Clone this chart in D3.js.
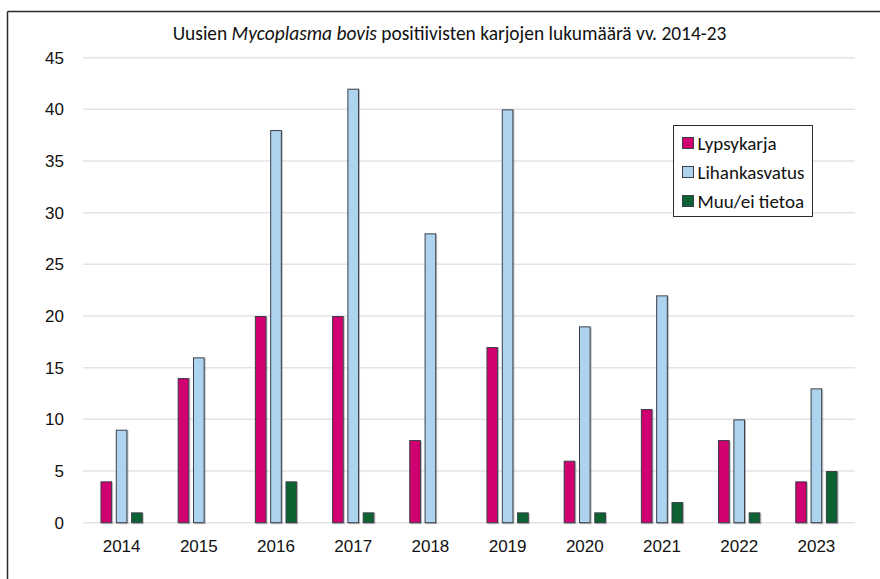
<!DOCTYPE html>
<html>
<head>
<meta charset="utf-8">
<script src="https://cdn.jsdelivr.net/npm/d3@7"></script>
<style>
  html, body { margin: 0; padding: 0; background: #fff; overflow: hidden; }
  svg { display: block; font-family: Carlito, Calibri, Lato, "Open Sans", sans-serif; }
</style>
</head>
<body>
<script>
const years = ["2014","2015","2016","2017","2018","2019","2020","2021","2022","2023"];
const seriesNames = ["Lypsykarja", "Lihankasvatus", "Muu/ei tietoa"];
const lypsykarja    = [4, 14, 20, 20, 8, 17, 6, 11, 8, 4];
const lihankasvatus = [9, 16, 38, 42, 28, 40, 19, 22, 10, 13];
const muu           = [1, 0, 4, 1, 0, 1, 1, 2, 1, 5];
const yTicks = [0, 5, 10, 15, 20, 25, 30, 35, 40, 45];
const colors = ["#d1006f", "#aed3ee", "#0c6233"];

const W = 880, H = 579;
const svg = d3.select("body").append("svg").attr("width", W).attr("height", H);

// outer frame (top and left edges visible)
svg.append("line").attr("x1", 7.5).attr("x2", W).attr("y1", 11.5).attr("y2", 11.5)
  .attr("stroke", "#2b2b2b").attr("stroke-width", 1.5);
svg.append("line").attr("x1", 7.5).attr("x2", 7.5).attr("y1", 11.5).attr("y2", H)
  .attr("stroke", "#2b2b2b").attr("stroke-width", 1.5);

const plot = {left: 83, right: 855, top: 57.7, bottom: 522.7};
const x = d3.scaleBand().domain(years).range([plot.left, plot.right]).paddingInner(0).paddingOuter(0);
const y = d3.scaleLinear().domain([0, 45]).range([plot.bottom, plot.top]);
const xs = d3.scaleBand().domain(seriesNames).range([0, x.bandwidth()]).paddingInner(0.24).paddingOuter(1.14);

// gridlines
svg.append("g").selectAll("line").data(yTicks).join("line")
  .attr("x1", plot.left).attr("x2", plot.right)
  .attr("y1", d => y(d)).attr("y2", d => y(d))
  .attr("stroke", "#e3e3e6").attr("stroke-width", 1.5);

// y axis labels
const yAxis = d3.axisLeft(y).tickValues(yTicks).tickSize(0).tickPadding(0);
const gy = svg.append("g").attr("transform", `translate(64,0)`).call(yAxis);
gy.select(".domain").remove();
gy.selectAll("text").attr("font-size", 17).attr("fill", "#111").attr("font-family", null);

// x axis labels
const xAxis = d3.axisBottom(x).tickSize(0).tickPadding(0);
const gx = svg.append("g").attr("transform", `translate(0,540)`).call(xAxis);
gx.select(".domain").remove();
gx.selectAll("text").attr("font-size", 17).attr("fill", "#111").attr("font-family", null);

// bars
const seriesData = [lypsykarja, lihankasvatus, muu];
const defs = svg.append("defs");
const f = defs.append("filter").attr("id", "sh").attr("x", "-20%").attr("y", "-20%").attr("width", "150%").attr("height", "150%");
f.append("feDropShadow").attr("dx", 1).attr("dy", 1).attr("stdDeviation", 0.6).attr("flood-color", "#000").attr("flood-opacity", 0.25);

seriesNames.forEach((name, si) => {
  const data = years.map((yr, i) => ({year: yr, value: seriesData[si][i]})).filter(d => d.value > 0);
  svg.append("g").attr("filter", "url(#sh)").selectAll("rect").data(data).join("rect")
    .attr("x", d => x(d.year) + xs(name) + 0.5)
    .attr("y", d => y(d.value) + 0.5)
    .attr("width", xs.bandwidth() - 1)
    .attr("height", d => y(0) - y(d.value) - 0.5)
    .attr("fill", colors[si])
    .attr("stroke", "#3b3f4a").attr("stroke-width", 1);
});

// title (sized to the reference width)
const title = svg.append("text").attr("x", 449.5).attr("y", 40).attr("text-anchor", "middle")
  .attr("font-size", 16).attr("fill", "#111");
title.append("tspan").text("Uusien ");
title.append("tspan").attr("font-style", "italic").text("Mycoplasma bovis");
title.append("tspan").text(" positiivisten karjojen lukumäärä vv. 2014-23");
{
  const w = title.node().getComputedTextLength();
  title.attr("font-size", 16 * 554 / w);
}

// legend
const lg = svg.append("g").attr("transform", "translate(673.5,125.5)");
lg.append("rect").attr("width", 139).attr("height", 91).attr("fill", "#fff").attr("stroke", "#2b2b2b").attr("stroke-width", 1);
const legendTexts = [];
seriesNames.forEach((name, i) => {
  const row = lg.append("g").attr("transform", `translate(9,${17.5 + i * 29})`);
  row.append("rect").attr("x", 0).attr("y", -5.5).attr("width", 11).attr("height", 11)
    .attr("fill", colors[i]).attr("stroke", "#3b3f4a").attr("stroke-width", 1);
  legendTexts.push(row.append("text").attr("x", 15).attr("y", 0).attr("dy", "0.35em").attr("font-size", 16).attr("fill", "#111").text(name));
});
{
  const w = legendTexts[1].node().getComputedTextLength();
  const fs = Math.min(19, 16 * 109 / w);
  legendTexts.forEach(t => t.attr("font-size", fs));
}
</script>
</body>
</html>
